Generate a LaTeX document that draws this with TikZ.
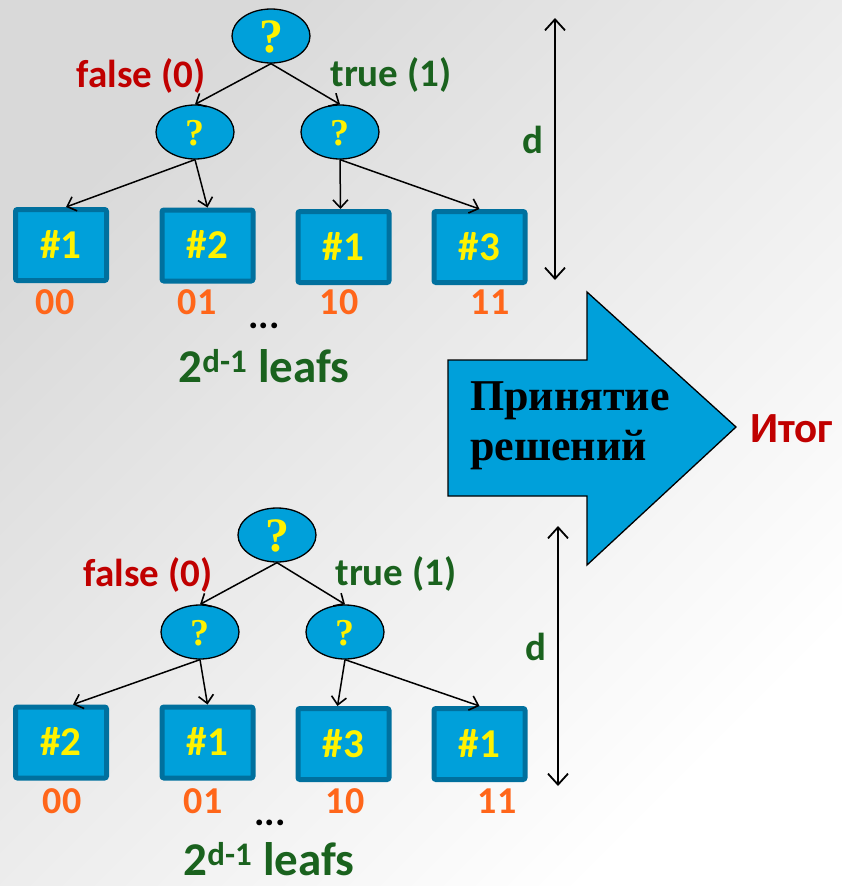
\documentclass[tikz,border=0pt]{standalone}
\usepackage{fontspec}
\setmainfont{Carlito}
\newfontfamily\qfont{Liberation Serif}
\usetikzlibrary{shapes.geometric}
\usetikzlibrary{arrows.meta}

\definecolor{nodeblue}{RGB}{0,160,218}
\definecolor{edgeblue}{RGB}{0,112,158}
\definecolor{falsered}{RGB}{192,0,0}
\definecolor{truegreen}{RGB}{26,98,30}
\definecolor{bitorange}{RGB}{255,102,26}

\begin{document}
\begin{tikzpicture}[x=1pt,y=-1pt,
  >={Straight Barb[length=8pt,width=15pt,line width=1.6pt]},
  qnode/.style={ellipse,draw=black,line width=1.3pt,fill=nodeblue,
    minimum width=78pt,minimum height=54pt,inner sep=0pt,text=yellow,
    font=\qfont\bfseries\fontsize{38}{38}\selectfont,text height=26pt,text depth=0pt},
  qroot/.style={qnode,font=\qfont\bfseries\fontsize{48}{48}\selectfont,text height=32pt},
  leafbox/.style={rectangle,draw=edgeblue,line width=5pt,fill=nodeblue,rounded corners=2pt,
    minimum width=91pt,minimum height=71pt,inner sep=0pt,text=yellow,
    font=\bfseries\fontsize{41}{41}\selectfont,text height=26.5pt,text depth=0pt},
  bitlbl/.style={inner sep=0pt,text=bitorange,font=\bfseries\fontsize{38}{38}\selectfont,
    text height=24.5pt,text depth=0pt},
  lbl/.style={inner sep=0pt,anchor=base,font=\bfseries\fontsize{39}{39}\selectfont},
  link/.style={->,line width=1.5pt},
  dist/.style={<->,line width=1.8pt,>={Straight Barb[length=11pt,width=20pt,line width=1.8pt]}}]

% background
\shade[top color=gray!30,middle color=gray!6,bottom color=white,shading angle=45]
  (0,0) rectangle (842,886);
\useasboundingbox (0,0) rectangle (842,886);

% upper tree
\node[qroot] (t0) at (271,36) {?};
\node[qnode] (t1) at (195,132) {?};
\node[qnode] (t2) at (340,132) {?};
\node[leafbox] (t00) at (61,245) {\#1};
\node[leafbox] (t01) at (207.5,245.5) {\#2};
\node[leafbox] (t10) at (343.5,247) {\#1};
\node[leafbox] (t11) at (479.5,247) {\#3};

\draw[link] (t0.south) -- (t1.north);
\draw[link] (t0.south) -- (t2.north);
\draw[link] (t1.south) -- ([xshift=5pt]t00.north);
\draw[link] (t1.south) -- (t01.north);
\draw[link] (t2.south) -- ([xshift=-3pt]t10.north);
\draw[link] (t2.south) -- (t11.north);

\node[lbl,text=falsered] (tf) at (141,87) {false (0)};
\node[lbl,text=truegreen] (tt) at (391,86) {true (1)};
\node[bitlbl] (tb00) at (55,302.5) {00};
\node[bitlbl] (tb01) at (197,302.5) {01};
\node[bitlbl] (tb10) at (339,302.5) {10};
\node[bitlbl] (tb11) at (490,302.5) {11};
\node[lbl] (tdots) at (264,328) {...};
\node[lbl,text=truegreen,font=\bfseries\fontsize{47}{47}\selectfont] (tn) at (264,382) {2\textsuperscript{d-1} leafs};

\coordinate (td1) at (555,18);
\coordinate (td2) at (555,280);
\draw[dist] (td1) -- (td2);
\node[lbl,text=truegreen] (tdepth) at (533,153) {d};

% lower tree
\node[qroot] (b0) at (277,535) {?};
\node[qnode] (b1) at (200,632) {?};
\node[qnode] (b2) at (345,632) {?};
\node[leafbox] (b00) at (61,742.5) {\#2};
\node[leafbox] (b01) at (207.5,742.5) {\#1};
\node[leafbox] (b10) at (343.5,744) {\#3};
\node[leafbox] (b11) at (479.5,744) {\#1};

\draw[link] (b0.south) -- (b1.north);
\draw[link] (b0.south) -- (b2.north);
\draw[link] (b1.south) -- ([xshift=12pt]b00.north);
\draw[link] (b1.south) -- (b01.north);
\draw[link] (b2.south) -- ([xshift=-6pt]b10.north);
\draw[link] (b2.south) -- (b11.north);

\node[lbl,text=falsered] (bf) at (148,586) {false (0)};
\node[lbl,text=truegreen] (bt) at (396,585) {true (1)};
\node[bitlbl] (bb00) at (62,801.5) {00};
\node[bitlbl] (bb01) at (203,801.5) {01};
\node[bitlbl] (bb10) at (345,801.5) {10};
\node[bitlbl] (bb11) at (497,801.5) {11};
\node[lbl] (bdots) at (270,825) {...};
\node[lbl,text=truegreen,font=\bfseries\fontsize{47}{47}\selectfont] (bn) at (269,875) {2\textsuperscript{d-1} leafs};

\coordinate (bd1) at (558,526);
\coordinate (bd2) at (558,786);
\draw[dist] (bd1) -- (bd2);
\node[lbl,text=truegreen] (bdepth) at (536,660) {d};

% decision arrow
\draw[line width=1.3pt,fill=nodeblue] (448,360) -- (587,360) -- (587,292) -- (736,427)
  -- (587,565) -- (587,496) -- (448,496) -- cycle;
\node[inner sep=0pt,anchor=base west,align=left,font=\qfont\bfseries\fontsize{44}{50}\selectfont]
  (dec) at (470,460) {Принятие\\решений};
\node[inner sep=0pt,anchor=base west,text=falsered,font=\bfseries\fontsize{43}{43}\selectfont]
  (res) at (750,442) {Итог};
\end{tikzpicture}
\end{document}
